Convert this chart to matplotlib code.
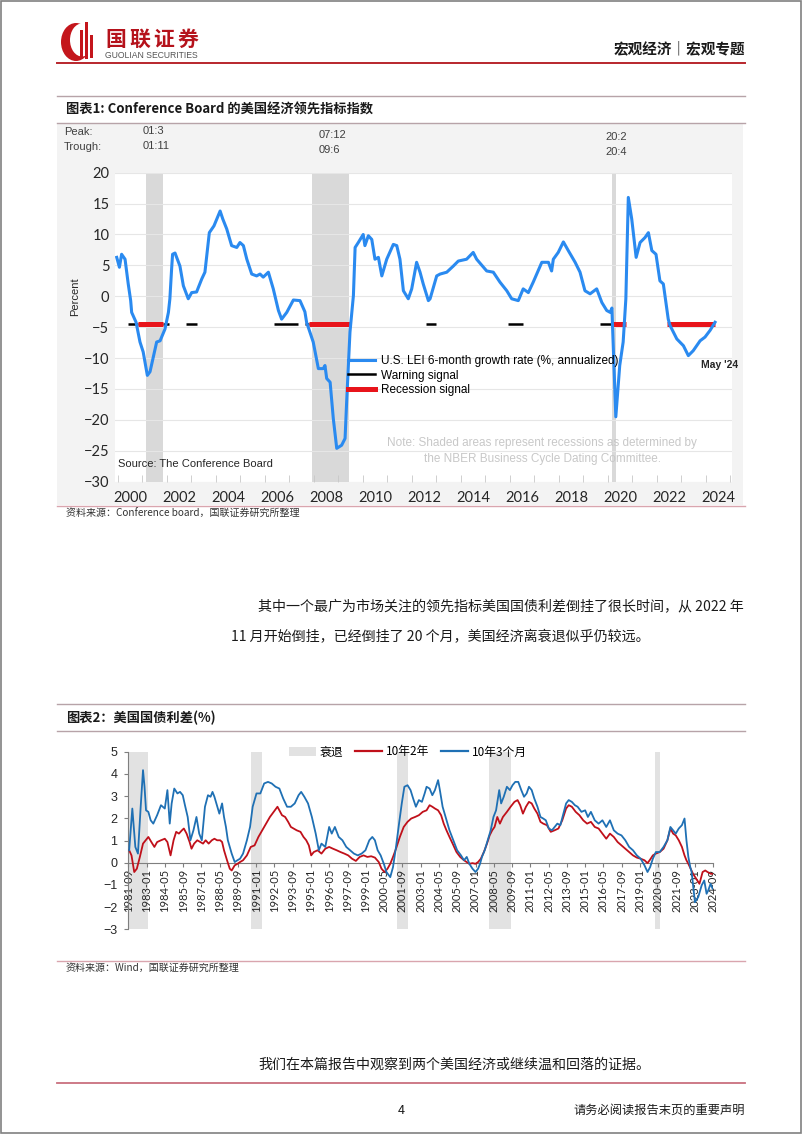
import matplotlib
matplotlib.use("Agg")
import matplotlib.pyplot as plt
from matplotlib.patches import Rectangle, Ellipse, Patch
from matplotlib.lines import Line2D

plt.rcParams['font.family'] = ['Noto Sans CJK SC', 'DejaVu Sans']

W, H = 802, 1134

# ---- chart 1: Conference Board LEI, 6-month growth rate (annualized) ----
lei_year = [1999.96, 2000.07, 2000.16, 2000.30, 2000.37, 2000.43, 2000.53, 2000.57, 2000.75, 2000.91,
            2001.04, 2001.21, 2001.32, 2001.59, 2001.73, 2001.93, 2002.07, 2002.13, 2002.20, 2002.24,
            2002.34, 2002.54, 2002.68, 2002.88, 2003.02, 2003.22, 2003.43, 2003.56, 2003.74, 2003.93,
            2004.18, 2004.29, 2004.45, 2004.65, 2004.86, 2004.99, 2005.13, 2005.27, 2005.47, 2005.67,
            2005.81, 2005.94, 2006.15, 2006.35, 2006.56, 2006.69, 2006.90, 2007.17, 2007.44, 2007.64,
            2007.71, 2007.98, 2008.19, 2008.39, 2008.46, 2008.53, 2008.67, 2008.80, 2008.94, 2009.14,
            2009.28, 2009.35, 2009.48, 2009.62, 2009.69, 2009.82, 2010.02, 2010.09, 2010.23, 2010.37,
            2010.50, 2010.64, 2010.78, 2010.98, 2011.25, 2011.39, 2011.52, 2011.66, 2011.86, 2012.00,
            2012.20, 2012.34, 2012.47, 2012.68, 2012.75, 2013.02, 2013.16, 2013.43, 2013.70, 2013.90,
            2014.24, 2014.51, 2014.65, 2015.06, 2015.33, 2015.60, 2015.88, 2016.08, 2016.35, 2016.55,
            2016.76, 2016.96, 2017.31, 2017.58, 2017.71, 2017.78, 2017.98, 2018.19, 2018.39, 2018.67,
            2018.87, 2019.07, 2019.28, 2019.55, 2019.76, 2019.96, 2020.10, 2020.17, 2020.33, 2020.49,
            2020.63, 2020.74, 2020.84, 2020.98, 2021.16, 2021.32, 2021.52, 2021.66, 2021.80, 2021.97,
            2022.13, 2022.27, 2022.47, 2022.54, 2022.82, 2023.09, 2023.29, 2023.49, 2023.77, 2023.97,
            2024.18, 2024.38]
lei_value = [6.3, 4.7, 6.8, 6.0, 3.9, 2.0, -0.7, -2.6, -4.2, -7.4,
             -9.0, -12.8, -12.2, -7.4, -7.2, -5.3, -2.6, -0.4, 4.4, 6.8,
             7.0, 4.9, 1.7, -0.4, 0.6, 0.7, 2.8, 3.9, 10.3, 11.4,
             13.8, 12.5, 10.9, 8.2, 7.9, 8.7, 8.2, 6.0, 3.6, 3.3,
             3.6, 3.1, 3.9, 1.2, -2.3, -3.7, -2.6, -0.6, -0.7, -2.5,
             -4.2, -7.4, -11.7, -11.7, -11.2, -13.3, -13.9, -19.8, -24.6, -24.1,
             -23.0, -16.6, -5.8, 0.1, 7.9, 8.7, 10.0, 8.2, 9.8, 9.2,
             6.0, 6.3, 3.3, 6.0, 8.4, 8.2, 6.0, 0.9, -0.4, 1.2,
             5.5, 3.9, 2.0, -0.7, -0.4, 3.3, 3.6, 3.9, 4.9, 5.7,
             6.0, 7.1, 6.0, 4.1, 3.9, 2.3, 0.9, -0.4, -0.7, 1.2,
             0.6, 2.3, 5.5, 5.5, 4.1, 6.0, 7.1, 8.8, 7.4, 5.5,
             3.9, 0.9, 0.4, 1.2, -1.0, -2.3, -2.6, -1.9, -19.5, -11.2,
             -7.4, -0.4, 16.0, 12.5, 6.3, 8.7, 9.5, 10.3, 7.4, 6.8,
             2.5, 2.0, -3.7, -4.7, -6.9, -8.0, -9.6, -8.8, -7.2, -6.6,
             -5.5, -4.2]
lei_recessions = [(2001.16, 2001.84), (2007.94, 2009.45), (2020.17, 2020.34)]
warning_spans = [(2000.43, 2000.84), (2001.86, 2002.11), (2002.79, 2003.22), (2006.39, 2007.37),
                 (2007.64, 2007.82), (2012.58, 2012.99), (2015.94, 2016.53), (2019.69, 2020.16)]
recession_spans = [(2000.84, 2001.86), (2007.82, 2009.48), (2020.16, 2020.75), (2022.41, 2024.38)]
signal_level = -4.5
x1_labels = ['2000', '2002', '2004', '2006', '2008', '2010', '2012',
             '2014', '2016', '2018', '2020', '2022', '2024']
lei_legend = ['U.S. LEI 6-month growth rate (%, annualized)', 'Warning signal', 'Recession signal']

# ---- chart 2: US treasury spreads ----
t3m_year = [1981.73, 1981.96, 1982.18, 1982.37, 1982.57, 1982.74, 1982.85, 1982.96, 1983.13, 1983.30,
            1983.49, 1983.77, 1984.05, 1984.33, 1984.52, 1984.69, 1984.83, 1985.02, 1985.25, 1985.44,
            1985.64, 1985.80, 1986.00, 1986.20, 1986.42, 1986.64, 1986.84, 1987.03, 1987.26, 1987.48,
            1987.67, 1987.81, 1987.95, 1988.09, 1988.31, 1988.51, 1988.65, 1988.79, 1988.93, 1989.07,
            1989.21, 1989.43, 1989.63, 1989.82, 1990.04, 1990.32, 1990.55, 1990.74, 1991.02, 1991.30,
            1991.58, 1991.86, 1992.13, 1992.41, 1992.69, 1992.97, 1993.25, 1993.53, 1993.81, 1994.09,
            1994.28, 1994.51, 1994.78, 1995.06, 1995.34, 1995.57, 1995.76, 1996.04, 1996.32, 1996.51,
            1996.74, 1997.02, 1997.29, 1997.57, 1997.85, 1998.13, 1998.41, 1998.69, 1998.97, 1999.25,
            1999.47, 1999.66, 1999.86, 2000.08, 2000.31, 2000.50, 2000.78, 2000.98, 2001.20, 2001.42,
            2001.62, 2001.81, 2002.04, 2002.26, 2002.45, 2002.65, 2002.87, 2003.09, 2003.29, 2003.43,
            2003.65, 2003.85, 2004.04, 2004.27, 2004.40, 2004.60, 2004.82, 2005.10, 2005.38, 2005.66,
            2005.94, 2006.16, 2006.36, 2006.55, 2006.78, 2007.00, 2007.19, 2007.33, 2007.47, 2007.67,
            2007.89, 2008.11, 2008.31, 2008.50, 2008.73, 2008.87, 2009.06, 2009.29, 2009.51, 2009.70,
            2009.90, 2010.12, 2010.34, 2010.54, 2010.73, 2010.90, 2011.10, 2011.29, 2011.52, 2011.74,
            2011.94, 2012.13, 2012.35, 2012.58, 2012.77, 2012.97, 2013.19, 2013.41, 2013.61, 2013.80,
            2014.03, 2014.25, 2014.45, 2014.73, 2015.00, 2015.20, 2015.42, 2015.70, 2015.98, 2016.26,
            2016.54, 2016.81, 2017.09, 2017.37, 2017.65, 2017.93, 2018.21, 2018.49, 2018.77, 2019.05,
            2019.33, 2019.55, 2019.74, 2019.94, 2020.16, 2020.44, 2020.72, 2021.00, 2021.22, 2021.42,
            2021.61, 2021.83, 2022.06, 2022.25, 2022.39, 2022.53, 2022.67, 2022.77, 2023.01, 2023.25,
            2023.50, 2023.69, 2023.86, 2023.98, 2024.15, 2024.30]
t3m_value = [0.56, 2.44, 0.71, 0.41, 2.52, 4.17, 3.42, 2.36, 2.29, 1.91,
             1.76, 2.14, 2.59, 2.44, 3.27, 1.76, 2.67, 3.34, 3.12, 3.19,
             3.04, 2.59, 2.06, 1.01, 1.46, 2.06, 1.31, 1.01, 2.52, 3.04,
             2.97, 3.19, 2.97, 2.67, 2.21, 2.67, 2.06, 1.61, 1.01, 0.71,
             0.41, 0.03, 0.11, 0.18, 0.41, 1.01, 1.61, 2.52, 3.12, 3.12,
             3.57, 3.64, 3.57, 3.42, 3.34, 2.89, 2.52, 2.52, 2.67, 3.04,
             3.19, 2.97, 2.67, 2.06, 1.31, 0.56, 0.86, 0.71, 1.61, 1.31,
             1.61, 1.16, 1.01, 0.71, 0.56, 0.41, 0.33, 0.41, 0.56, 1.01,
             1.16, 1.01, 0.56, 0.33, -0.05, -0.42, -0.65, -0.20, 0.71, 1.76,
             2.67, 3.42, 3.49, 3.27, 2.89, 2.52, 2.82, 2.74, 3.12, 3.42,
             3.34, 3.04, 3.27, 3.72, 3.27, 2.52, 2.06, 1.46, 1.01, 0.56,
             0.33, 0.11, 0.26, -0.05, -0.27, -0.42, -0.27, -0.05, 0.26, 0.56,
             1.01, 1.46, 2.06, 2.36, 3.27, 2.67, 2.97, 3.42, 3.27, 3.49,
             3.64, 3.64, 3.27, 2.97, 3.12, 3.42, 3.27, 2.89, 2.52, 2.06,
             1.99, 1.91, 1.54, 1.46, 1.61, 1.76, 1.69, 2.21, 2.67, 2.82,
             2.74, 2.59, 2.52, 2.29, 2.36, 2.06, 2.29, 1.91, 1.76, 1.91,
             1.61, 1.91, 1.46, 1.31, 1.23, 1.01, 0.71, 0.56, 0.33, 0.18,
             -0.12, -0.42, -0.20, 0.18, 0.48, 0.48, 0.71, 1.01, 1.61, 1.46,
             1.31, 1.54, 1.69, 1.99, 1.01, 0.26, -0.20, -0.42, -1.78, -1.55,
             -1.02, -0.80, -1.40, -1.25, -0.95, -1.17]
t2y_year = [1981.73, 1981.90, 1982.10, 1982.29, 1982.51, 1982.74, 1982.93, 1983.13, 1983.35, 1983.57,
            1983.77, 1984.05, 1984.33, 1984.52, 1984.75, 1984.97, 1985.16, 1985.36, 1985.58, 1985.72,
            1985.92, 1986.14, 1986.28, 1986.47, 1986.70, 1986.92, 1987.12, 1987.31, 1987.53, 1987.76,
            1987.95, 1988.15, 1988.37, 1988.51, 1988.65, 1988.87, 1989.07, 1989.21, 1989.43, 1989.63,
            1989.82, 1990.04, 1990.32, 1990.60, 1990.88, 1991.16, 1991.44, 1991.72, 1992.00, 1992.27,
            1992.55, 1992.69, 1992.88, 1993.11, 1993.33, 1993.53, 1993.72, 1993.95, 1994.23, 1994.45,
            1994.65, 1994.84, 1995.01, 1995.20, 1995.48, 1995.76, 1996.04, 1996.32, 1996.60, 1996.87,
            1997.15, 1997.43, 1997.71, 1997.99, 1998.27, 1998.55, 1998.83, 1999.11, 1999.39, 1999.66,
            1999.94, 2000.14, 2000.36, 2000.58, 2000.78, 2000.98, 2001.20, 2001.48, 2001.76, 2002.04,
            2002.31, 2002.59, 2002.87, 2003.15, 2003.43, 2003.65, 2003.85, 2004.04, 2004.27, 2004.49,
            2004.68, 2004.88, 2005.10, 2005.33, 2005.61, 2005.88, 2006.16, 2006.36, 2006.55, 2006.78,
            2007.00, 2007.19, 2007.39, 2007.61, 2007.84, 2008.03, 2008.22, 2008.39, 2008.59, 2008.78,
            2009.00, 2009.29, 2009.56, 2009.84, 2010.07, 2010.26, 2010.46, 2010.68, 2010.90, 2011.10,
            2011.29, 2011.52, 2011.74, 2011.94, 2012.21, 2012.49, 2012.77, 2013.05, 2013.33, 2013.61,
            2013.80, 2014.03, 2014.31, 2014.58, 2014.86, 2015.14, 2015.42, 2015.70, 2015.98, 2016.26,
            2016.54, 2016.81, 2017.09, 2017.37, 2017.65, 2017.93, 2018.21, 2018.49, 2018.77, 2019.05,
            2019.33, 2019.55, 2019.74, 2019.94, 2020.16, 2020.44, 2020.72, 2021.00, 2021.22, 2021.42,
            2021.61, 2021.83, 2022.06, 2022.25, 2022.39, 2022.53, 2022.87, 2023.10, 2023.34, 2023.57,
            2023.76, 2023.93, 2024.17, 2024.30]
t2y_value = [0.56, 0.33, -0.42, -0.27, 0.26, 0.86, 1.01, 1.16, 0.93, 0.71,
             0.93, 1.01, 1.08, 0.93, 0.33, 1.01, 1.39, 1.31, 1.46, 1.54,
             1.31, 0.93, 0.63, 0.86, 1.01, 0.93, 0.86, 1.01, 0.86, 1.01,
             1.08, 1.01, 1.01, 0.93, 0.56, 0.11, -0.27, -0.35, -0.12, -0.05,
             0.03, 0.11, 0.33, 0.71, 0.78, 1.16, 1.46, 1.76, 2.06, 2.29,
             2.52, 2.36, 2.14, 2.06, 1.84, 1.61, 1.54, 1.46, 1.39, 1.16,
             1.01, 0.78, 0.33, 0.48, 0.56, 0.41, 0.63, 0.71, 0.63, 0.56,
             0.48, 0.41, 0.33, 0.18, 0.08, 0.26, 0.33, 0.26, 0.29, 0.23,
             0.03, -0.27, -0.42, -0.27, -0.05, 0.26, 0.63, 1.16, 1.61, 1.84,
             1.99, 2.06, 2.14, 2.29, 2.36, 2.59, 2.52, 2.44, 2.36, 2.14,
             1.76, 1.46, 1.16, 0.86, 0.48, 0.26, 0.11, 0.03, -0.05, -0.02,
             -0.05, 0.03, 0.18, 0.48, 0.86, 1.23, 1.46, 1.61, 2.06, 1.76,
             2.06, 2.29, 2.52, 2.74, 2.82, 2.59, 2.21, 2.52, 2.74, 2.67,
             2.44, 2.21, 1.84, 1.76, 1.69, 1.39, 1.46, 1.54, 1.91, 2.44,
             2.59, 2.52, 2.29, 2.14, 1.91, 1.76, 1.84, 1.61, 1.54, 1.31,
             1.08, 1.31, 1.16, 0.93, 0.78, 0.63, 0.48, 0.33, 0.23, 0.18,
             0.11, -0.02, 0.14, 0.33, 0.41, 0.48, 0.63, 1.01, 1.54, 1.31,
             1.23, 1.01, 0.71, 0.33, 0.11, -0.05, -0.50, -0.72, -0.95, -0.42,
             -0.35, -0.42, -0.50, -0.50]
spread_recessions = [(1981.67, 1983.10), (1990.60, 1991.45), (2001.24, 2002.08),
                     (2007.95, 2009.62), (2020.10, 2020.43)]
x2_labels = ['1981-09', '1983-01', '1984-05', '1985-09', '1987-01', '1988-05', '1989-09',
             '1991-01', '1992-05', '1993-09', '1995-01', '1996-05', '1997-09', '1999-01',
             '2000-05', '2001-09', '2003-01', '2004-05', '2005-09', '2007-01', '2008-05',
             '2009-09', '2011-01', '2012-05', '2013-09', '2015-01', '2016-05', '2017-09',
             '2019-01', '2020-05', '2021-09', '2023-01', '2024-09']
spread_legend = ['衰退', '10年2年', '10年3个月']

# page text
logo_name = '国联证券'
header_right = '宏观经济｜宏观专题'
title1 = '图表1: Conference Board 的美国经济领先指标指数'
source1 = '资料来源：Conference board，国联证券研究所整理'
para1 = '其中一个最广为市场关注的领先指标美国国债利差倒挂了很长时间，从 2022 年'
para2 = '11 月开始倒挂，已经倒挂了 20 个月，美国经济离衰退似乎仍较远。'
title2 = '图表2：美国国债利差(%)'
source2 = '资料来源：Wind，国联证券研究所整理'
para3 = '我们在本篇报告中观察到两个美国经济或继续温和回落的证据。'
footer = '请务必阅读报告末页的重要声明'

fig = plt.figure(figsize=(W / 100, H / 100), dpi=100)
fig.patch.set_facecolor('white')


def fx(x):
    return x / W


def fy(y):
    return 1 - y / H


def hline(y, x0, x1, color, lw):
    fig.add_artist(Line2D([fx(x0), fx(x1)], [fy(y), fy(y)], color=color, lw=lw))


def txt(x, y, s, **kw):
    kw.setdefault('va', 'center')
    fig.text(fx(x), fy(y), s, **kw)


def rect(x0, y0, x1, y1, **kw):
    fig.add_artist(Rectangle((fx(x0), fy(y1)), fx(x1) - fx(x0), fy(y0) - fy(y1),
                             transform=fig.transFigure, **kw))


# page frame
rect(0.5, 0.5, W - 1, H - 1, fill=False, ec='#808080', lw=1.2)

# logo
fig.add_artist(Ellipse((fx(76), fy(42)), 30 / W, 38 / H, transform=fig.transFigure, fc='#c4161c', ec='none'))
fig.add_artist(Ellipse((fx(82), fy(40)), 24 / W, 33 / H, transform=fig.transFigure, fc='white', ec='none'))
rect(80, 30, 83, 59, fc='#c4161c', ec='none')
rect(85, 22, 88, 59, fc='#c4161c', ec='none')
rect(90, 35, 93, 58, fc='#c4161c', ec='none')
for i, ch in enumerate(logo_name):
    txt(105 + 24 * i, 46, ch, fontsize=15, fontweight='bold', color='#b5121b', va='baseline')
txt(105, 56, 'GUOLIAN SECURITIES', fontsize=6.2, color='#555555', family=['Liberation Sans'])
txt(745, 48, header_right, fontsize=10.5, fontweight='bold', ha='right', color='#1a1a1a')
hline(63, 57, 745, '#b8262c', 1.4)

# chart 1 frame
hline(96, 57, 745, '#b7a3a8', 1.0)
txt(66, 110, title1, fontsize=9.5, fontweight='bold', color='#1a1a1a')
hline(123, 57, 745, '#b7a3a8', 1.0)
rect(57, 124, 743, 505, fc='#f3f3f3', ec='none', zorder=0)
hline(506, 57, 745, '#d9a5ae', 1.0)
txt(66, 514, source1, fontsize=7.2, color='#333333')

ax1 = fig.add_axes([fx(115), fy(481.7), (731.7 - 115) / W, (481.7 - 172.7) / H])
ax1.set_facecolor('white')
for s in ax1.spines.values():
    s.set_visible(False)
ax1.set_xlim(1999.89, 2025.06)
ax1.set_ylim(-30, 20)
ax1.set_yticks(range(-30, 21, 5))
ax1.grid(axis='y', color='#e6e6e6', lw=0.8)
ax1.set_axisbelow(True)
for a, b in lei_recessions:
    ax1.axvspan(a, b, color='#d9d9d9', lw=0, zorder=0.5)
ax1.hlines([signal_level] * len(warning_spans), [a for a, b in warning_spans],
           [b for a, b in warning_spans], color='black', lw=1.8, zorder=2)
ax1.hlines([signal_level] * len(recession_spans), [a for a, b in recession_spans],
           [b for a, b in recession_spans], color='#e8141b', lw=3.6, zorder=2.5)
ax1.plot(lei_year, lei_value, color='#2a8af0', lw=2.2, zorder=3)
ax1.set_xticks([int(s) + 0.5 for s in x1_labels])
ax1.set_xticklabels(x1_labels)
ax1.set_xticks(range(2000, 2026), minor=True)
ax1.tick_params(axis='x', which='major', length=0, pad=7, labelsize=10.5)
ax1.tick_params(axis='x', which='minor', length=5, direction='in', color='#c8c8c8')
ax1.tick_params(axis='y', length=0, pad=4, labelsize=10.5)
for lab in ax1.get_xticklabels() + ax1.get_yticklabels():
    lab.set_family(['Lato', 'DejaVu Sans'])
    lab.set_color('#262626')

ax1.legend([Line2D([], [], color='#2a8af0', lw=2.2),
            Line2D([], [], color='black', lw=1.8),
            Line2D([], [], color='#e8141b', lw=3.6)], lei_legend,
           loc='upper left', bbox_to_anchor=(fx(348), fy(355)), bbox_transform=fig.transFigure,
           frameon=False, borderpad=0, borderaxespad=0, handlelength=2.3, handletextpad=0.5,
           labelspacing=0.22, prop={'family': 'Liberation Sans', 'size': 8.5})

arial = ['Liberation Sans']
txt(75, 297, 'Percent', fontsize=8, rotation=90, ha='center', family=arial, color='#262626')
txt(64, 132, 'Peak:', fontsize=8, family=arial, color='#404040')
txt(64, 147, 'Trough:', fontsize=8, family=arial, color='#404040')
txt(143, 131, '01:3', fontsize=8, family=arial, color='#404040')
txt(143, 146, '01:11', fontsize=8, family=arial, color='#404040')
txt(319, 135, '07:12', fontsize=8, family=arial, color='#404040')
txt(319, 150, '09:6', fontsize=8, family=arial, color='#404040')
txt(605, 137, '20:2', fontsize=8, family=arial, color='#404040')
txt(605, 152, '20:4', fontsize=8, family=arial, color='#404040')
txt(720, 365, "May '24", fontsize=7.5, fontweight='bold', ha='center', family=arial, color='#262626')
txt(118, 464, 'Source: The Conference Board', fontsize=8, family=arial, color='#262626')
txt(542, 451, 'Note: Shaded areas represent recessions as determined by\nthe NBER Business Cycle Dating Committee.',
    fontsize=8.5, ha='center', family=arial, color='#c8c8c8', linespacing=1.35)

# paragraph
txt(258, 607, para1, fontsize=10.1, color='#1a1a1a')
txt(231, 637, para2, fontsize=10.1, color='#1a1a1a')

# chart 2
hline(704, 57, 745, '#b7a3a8', 1.0)
txt(66, 718, title2, fontsize=9.5, fontweight='bold', color='#1a1a1a')
hline(731, 57, 745, '#b7a3a8', 1.0)
hline(961, 57, 745, '#d9a5ae', 1.0)
txt(66, 968, source2, fontsize=7.2, color='#333333')

x2_start, x2_end = 1981.67, 2024.35
ax2 = fig.add_axes([fx(128.3), fy(929.3), (713.3 - 128.3) / W, (929.3 - 751.7) / H])
ax2.set_xlim(x2_start, x2_end)
ax2.set_ylim(-3, 5)
for a, b in spread_recessions:
    ax2.axvspan(a, b, color='#e2e2e2', lw=0, zorder=0.5)
ax2.plot(t2y_year, t2y_value, color='#c0101a', lw=1.3, zorder=3)
ax2.plot(t3m_year, t3m_value, color='#1f70b4', lw=1.3, zorder=3)
for s in ['top', 'right']:
    ax2.spines[s].set_visible(False)
ax2.spines['bottom'].set_position(('data', 0))
ax2.spines['bottom'].set_color('#7f7f7f')
ax2.spines['left'].set_color('#7f7f7f')
ax2.set_yticks(range(-3, 6))
x2_pos = [int(s[:4]) + (int(s[5:]) - 1) / 12 for s in x2_labels[:-1]] + [x2_end]
ax2.set_xticks(x2_pos)
ax2.set_xticklabels(x2_labels, rotation=90)
ax2.tick_params(axis='x', direction='out', length=3, pad=1.5, color='#7f7f7f', labelsize=8)
ax2.tick_params(axis='y', direction='out', length=3, pad=5, color='#7f7f7f', labelsize=9)
for lab in ax2.get_xticklabels():
    lab.set_family(['Lato', 'DejaVu Sans'])
    lab.set_color('#262626')
for lab in ax2.get_yticklabels():
    lab.set_family(['Liberation Sans', 'DejaVu Sans'])
    lab.set_color('#262626')
ax2.legend([Patch(fc='#e2e2e2', ec='none'), Line2D([], [], color='#c0101a', lw=1.6),
            Line2D([], [], color='#1f70b4', lw=1.6)], spread_legend,
           loc='center left', bbox_to_anchor=(fx(289), fy(752)), bbox_transform=fig.transFigure,
           ncol=3, frameon=False, borderpad=0, borderaxespad=0, handlelength=2.3, handletextpad=0.3,
           columnspacing=1.0, prop={'size': 8.5})

txt(258, 1065, para3, fontsize=10.1, color='#1a1a1a')
hline(1083, 57, 745, '#c9707e', 1.3)
txt(401, 1110, '4', fontsize=9, ha='center', color='#1a1a1a')
txt(745, 1110, footer, fontsize=8.8, ha='right', color='#1a1a1a')

fig.savefig('out.png', dpi=100)
